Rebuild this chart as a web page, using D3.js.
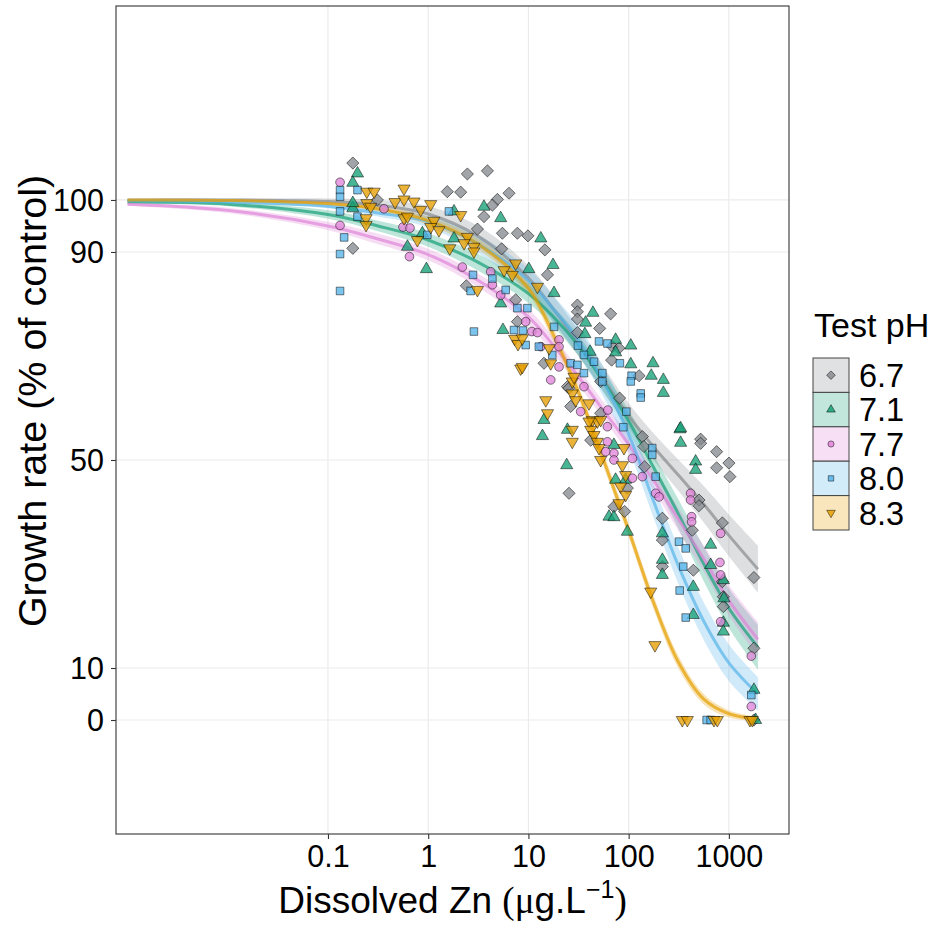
<!DOCTYPE html>
<html>
<head>
<meta charset="utf-8">
<script src="https://cdn.jsdelivr.net/npm/d3@7"></script>
<style>
  body { margin: 0; background: #fff; }
  text { font-family: "Liberation Sans", Arial, sans-serif; fill: #000; }
</style>
</head>
<body>
<svg id="chart" width="936" height="927"></svg>
<script>
// ---- data ----
const phLabels = ['6.7', '7.1', '7.7', '8.0', '8.3'];

const xTicks = [0.1, 1, 10, 100, 1000];
const xTickLabels = ['0.1', '1', '10', '100', '1000'];
const yTicks = [0, 10, 50, 90, 100];
const yTickLabels = ['0', '10', '50', '90', '100'];

// observations: [dissolved Zn (ug/L), growth rate (% of control)]
const pts67 = [[0.177,107.1],[0.311,100],[0.177,90.7],[1.55,101.6],[2.11,101.5],[2.46,105],[3.90,105.6],[6.40,101.3],
  [4.90,100.1],[4.37,99.0],[3.60,96.8],[5.50,93.6],[7.76,93.6],[9.89,93.1],[14.6,90.4],[5.4,90.6],[3.10,94.4],[15.5,85.6],
  [2.40,83.5],[7.76,76.6],[7.46,80.8],[14.3,68.6],[24.5,64.1],[26.4,60.3],[52.6,59],[30.8,79.8],[30.8,78.5],[30.8,77.1],
  [66.1,78.1],[51.4,75.3],[30.8,74.5],[68.8,71.8],[80.0,71.5],[67.6,69.2],[127,66.2],[52.6,65.1],[81.3,61.9],[25.4,63.8],
  [41.8,53.8],[25.4,43.6],[71.3,41.0],[91.2,40.1],[97.1,44.6],[137,54.5],[142,52.6],[144,48.7],[523,54.0],[523,53.2],
  [755,51.6],[1002,49.4],[755,48.5],[1025,46.8],[503,42.3],[503,41.2],[432,36.5],[861,37.9],[217,38.8],[217,34.6],
  [217,29.5],[442,28.8],[861,26.6],[881,23.7],[881,21.8],[1778,27.4],[1778,13.8],[1778,0]];

const pts71 = [[0.197,105.1],[0.177,103.3],[0.177,98.4],[0.177,99.4],[0.621,91.0],[0.960,86.7],[0.875,93.6],[3.60,98.7],
  [5.29,96.5],[13.3,92.6],[17.6,87.5],[18.0,82.1],[1.81,97.8],[1.81,92.6],[10.1,86.7],[5.57,75.0],[5.29,80.1],[44.0,78.3],
  [37.2,76.4],[36.6,74.2],[41.2,70.8],[74.1,73.1],[105,72.0],[74.1,70.7],[105,68.4],[175,68.6],[168,66.2],[222,65.4],
  [222,62.9],[325,55.9],[14.3,57.7],[24.5,55.8],[13.8,54.6],[24.1,49.0],[71.3,52.9],[74.1,46.2],[93.4,46.2],[63.7,39.1],
  [71.3,39.0],[97.1,36.2],[330,56.1],[330,53.3],[466,49.7],[466,48.1],[217,35.9],[217,30.8],[217,27.9],[658,33.7],
  [658,29.8],[442,25.6],[442,20.2],[881,26.9],[893,23.4],[881,18.7],[881,17.0],[1778,5.8],[1849,0]];

const pts77 = [[0.132,103.4],[0.132,95.1],[0.362,98.3],[0.56,94.8],[0.658,94.6],[0.65,89.1],[2.19,87.1],[4.37,83.7],
  [4.20,86.2],[5.29,81.7],[10.8,74.7],[12.3,74.5],[9.39,76.6],[13.3,71.8],[20.2,73.1],[20.2,71.8],[20.2,67.9],[16.7,65.4],
  [35.8,64.1],[33.2,59.3],[62,59.6],[61.4,56.4],[61.4,53.5],[71.3,51.3],[71.3,50],[109,50.3],[109,46.5],[137,46.8],
  [59.0,51.6],[186,43.6],[201,42.9],[415,43.6],[415,42.3],[425,39.1],[425,38.1],[828,35.9],[815,30.3],[828,27.9],
  [828,18.9],[1675,12.3],[1675,2.6]];

const pts80 = [[0.132,101.9],[0.132,100.6],[0.197,101.9],[0.132,97.8],[0.197,96.8],[0.145,92.8],[0.132,89.6],[0.132,82.5],
  [0.98,93.3],[1.61,97.8],[2.86,74.7],[2.80,85.6],[2.65,82.5],[4.37,84.9],[7.18,75.0],[8.83,74.9],[5.93,82.7],[7.76,79.2],
  [9.77,79.2],[9.39,72.1],[12.7,71.8],[17.3,70.2],[18.0,75.6],[50.6,72.8],[31.2,72.0],[61.4,72.4],[81.8,68.6],[107,66.2],
  [105,65.1],[132,62.8],[132,62.0],[94.9,59.3],[88.5,56.3],[26.4,68.6],[30.8,68.3],[35.8,66.7],[35.8,70.2],[45.1,68.9],
  [54.7,66.7],[54.7,65.1],[172,52.3],[172,51.0],[186,46.8],[318,34.3],[371,33.0],[351,29.5],[323,24.9],[371,19.7],
  [1675,4.8],[600,0],[658,0]];

const pts83 = [[0.244,101.6],[0.289,101.6],[0.244,99.4],[0.267,98.7],[0.24,96.5],[0.24,95.2],[0.574,102.2],[0.467,99.6],
  [0.574,100.1],[0.721,99.7],[1.06,99.2],[0.842,98.1],[0.574,96.5],[0.621,96.8],[1.14,96.0],[1.06,94.8],[1.28,94.2],
  [0.78,92.3],[2.11,97.1],[1.64,90.7],[2.46,92.9],[2.86,91.0],[2.28,91.7],[2.86,90.1],[3.10,82.7],[5.72,86.5],[6.9,85.6],
  [7.46,87.8],[12.3,83.3],[7.29,73.3],[7.87,72.3],[8.7,73.4],[8.37,67.6],[8.7,67.9],[16.1,71.5],[16.7,68.6],[14.9,61.5],
  [15.5,59.0],[27.4,65.1],[28.5,66.0],[27.4,62.8],[29.6,61.5],[40.2,60.9],[43.5,57.7],[48.7,57.4],[52.6,57.7],[27.4,55.8],
  [27.4,53.5],[40.2,57.4],[41.8,55.8],[45.1,54.8],[48.7,53.5],[50.6,52.3],[52.6,50],[89.8,52.3],[86.5,49.0],[93.4,47.1],
  [83.2,44.9],[93.4,43.3],[80,41.7],[166,24.7],[183,14.4],[343,0],[385,0],[710,0],[767,0],[1622,0],[1714,0]];

const fitConc = [0.001, 0.01, 0.1, 0.316, 1, 3.16, 10, 17.8, 31.6, 56.2, 100, 178, 316, 562, 1000, 1950];
const fit67 = [100, 100, 99.7, 99, 97.3, 93, 85, 79, 72.5, 65.5, 58.5, 52.5, 47, 41.5, 35.5, 29];
const fit71 = [99.6, 99.2, 97.2, 95, 92.3, 88, 82, 77.5, 72, 65, 57.5, 48.5, 39.5, 30, 21.5, 14];
const fit77 = [99.2, 98, 95, 92.5, 89.5, 84.5, 77.5, 72, 66, 59.5, 53, 46, 38.5, 31, 23, 15.5];
const fit80 = [99.9, 99.6, 98.8, 97.5, 95.8, 91.5, 84.5, 79, 73, 65, 55, 42, 29.5, 19, 11, 5];
const fit83 = [100, 99.9, 99.3, 98.3, 96, 91.5, 83, 74, 63, 50, 36.5, 22.5, 11, 4, 1.2, 0.2];
// half width of the confidence band at the same concentrations
const band67 = [0.2, 0.3, 0.6, 1, 1.5, 2, 2.4, 2.5, 2.5, 2.4, 2.4, 2.6, 3, 3.5, 4, 4.5];
const band71 = [0.3, 0.4, 0.8, 1, 1.3, 1.6, 1.8, 1.9, 2, 2, 2.1, 2.4, 2.8, 3.3, 3.8, 4.3];
const band77 = [0.3, 0.5, 0.8, 1, 1.1, 1.3, 1.5, 1.6, 1.6, 1.6, 1.7, 1.9, 2.2, 2.5, 2.9, 3.3];
const band80 = [0.1, 0.2, 0.4, 0.7, 1.1, 1.7, 2.3, 2.6, 2.8, 2.9, 3, 3.2, 3.5, 3.6, 3.5, 3.2];
const band83 = [0, 0.1, 0.3, 0.5, 0.8, 1, 1.2, 1.3, 1.3, 1.3, 1.3, 1.3, 1.2, 1, 0.7, 0.4];

// ---- styling ----
const colors = ['#878b90', '#14a077', '#e085d9', '#56b4e9', '#e69f00'];
const shapeNames = ['diamond', 'triangle', 'circle', 'square', 'triangleDown'];

const series = phLabels.map((ph, i) => ({
  ph,
  color: colors[i],
  shape: shapeNames[i],
  points: [pts67, pts71, pts77, pts80, pts83][i],
  fit: fitConc.map((c, j) => [c, [fit67, fit71, fit77, fit80, fit83][i][j], [band67, band71, band77, band80, band83][i][j]]),
}));

const svg = d3.select('#chart');
const panel = { left: 116, right: 789, top: 6, bottom: 834 };

const x = d3.scaleLog()
  .domain([Math.pow(10, -3.115), Math.pow(10, 3.6)])
  .range([panel.left, panel.right]);

const y = d3.scaleLinear()
  .domain([-21.92, 137.3])
  .range([panel.bottom, panel.top]);

function symbolPath(shape, size) {
  if (shape === 'circle') return d3.symbol(d3.symbolCircle, size)();
  if (shape === 'square' || shape === 'diamond') return d3.symbol(d3.symbolSquare, size)();
  return d3.symbol(d3.symbolTriangle, size)();
}
function symbolRotate(shape) {
  if (shape === 'diamond') return 45;
  if (shape === 'triangleDown') return 180;
  return 0;
}
const symbolSize = { diamond: 74, triangle: 64, circle: 60, square: 58, triangleDown: 64 };

// grid
const grid = svg.append('g');
grid.selectAll('.gx').data(xTicks).join('line')
  .attr('x1', d => x(d)).attr('x2', d => x(d))
  .attr('y1', panel.top).attr('y2', panel.bottom)
  .attr('stroke', '#ebebeb').attr('stroke-width', 1.2);
grid.selectAll('.gy').data(yTicks).join('line')
  .attr('x1', panel.left).attr('x2', panel.right)
  .attr('y1', d => y(d)).attr('y2', d => y(d))
  .attr('stroke', '#ebebeb').attr('stroke-width', 1.2);

// ribbons and fitted lines
const area = d3.area()
  .x(d => x(d[0]))
  .y0(d => y(d[1] - d[2]))
  .y1(d => y(d[1] + d[2]))
  .curve(d3.curveCatmullRom.alpha(0.5));

const line = d3.line()
  .x(d => x(d[0]))
  .y(d => y(d[1]))
  .curve(d3.curveCatmullRom.alpha(0.5));

series.forEach(s => {
  svg.append('path').datum(s.fit)
    .attr('d', area)
    .attr('fill', s.color)
    .attr('fill-opacity', 0.28);
});
series.forEach(s => {
  svg.append('path').datum(s.fit)
    .attr('d', line)
    .attr('fill', 'none')
    .attr('stroke', s.color)
    .attr('stroke-opacity', 0.7)
    .attr('stroke-width', 3);
});

// points
series.forEach(s => {
  svg.append('g').selectAll('path').data(s.points).join('path')
    .attr('d', symbolPath(s.shape, symbolSize[s.shape]))
    .attr('transform', d => `translate(${x(d[0])},${y(d[1])}) rotate(${symbolRotate(s.shape)})`)
    .attr('fill', s.color)
    .attr('fill-opacity', 0.78)
    .attr('stroke', '#000')
    .attr('stroke-opacity', 0.55)
    .attr('stroke-width', 0.9);
});

// panel border
svg.append('rect')
  .attr('x', panel.left).attr('y', panel.top)
  .attr('width', panel.right - panel.left)
  .attr('height', panel.bottom - panel.top)
  .attr('fill', 'none').attr('stroke', '#333').attr('stroke-width', 1.1);

// axes
const xAxis = svg.append('g')
  .attr('transform', `translate(0,${panel.bottom})`)
  .call(d3.axisBottom(x).tickValues(xTicks).tickFormat((d, i) => xTickLabels[i]).tickSize(5).tickPadding(6));
const yAxis = svg.append('g')
  .attr('transform', `translate(${panel.left},0)`)
  .call(d3.axisLeft(y).tickValues(yTicks).tickFormat((d, i) => yTickLabels[i]).tickSize(5).tickPadding(7));

[xAxis, yAxis].forEach(a => {
  a.select('.domain').remove();
  a.selectAll('.tick line').attr('stroke', '#333').attr('stroke-width', 1.1);
  a.selectAll('.tick text')
    .attr('font-family', '"Liberation Sans", Arial, sans-serif')
    .attr('font-size', 30.5).attr('fill', '#000');
});
yAxis.selectAll('.tick text').attr('dy', '0.36em');

// axis titles
const xTitle = svg.append('text')
  .attr('x', (panel.left + panel.right) / 2)
  .attr('y', 913)
  .attr('text-anchor', 'middle')
  .attr('font-size', 37);
xTitle.append('tspan').text('Dissolved Zn ');
xTitle.append('tspan').attr('font-family', '"Liberation Serif", serif').text('(\u03bc');
xTitle.append('tspan').text('g.L');
xTitle.append('tspan').attr('font-size', 25).attr('dy', -15).text('\u22121');
xTitle.append('tspan').attr('dy', 15).attr('font-family', '"Liberation Serif", serif').text(')');

svg.append('text')
  .attr('transform', `translate(46,${(panel.top + panel.bottom) / 2 - 19}) rotate(-90)`)
  .attr('text-anchor', 'middle')
  .attr('font-size', 39.5)
  .text('Growth rate (% of control)');

// legend
const legend = svg.append('g').attr('transform', 'translate(813,358)');
const keyH = 34.4, keyW = 36;
svg.append('text')
  .attr('x', 814).attr('y', 337)
  .attr('font-size', 34)
  .text('Test pH');

series.forEach((s, i) => {
  const g = legend.append('g').attr('transform', `translate(0,${i * keyH})`);
  g.append('rect').attr('width', keyW).attr('height', keyH).attr('fill', '#fff');
  g.append('rect').attr('width', keyW).attr('height', keyH)
    .attr('fill', s.color).attr('fill-opacity', 0.26)
    .attr('stroke', '#444').attr('stroke-width', 1);
  g.append('path')
    .attr('d', symbolPath(s.shape, symbolSize[s.shape] * 0.5))
    .attr('transform', `translate(${keyW / 2},${keyH / 2}) rotate(${symbolRotate(s.shape)})`)
    .attr('fill', s.color).attr('fill-opacity', 0.85)
    .attr('stroke', '#000').attr('stroke-opacity', 0.6).attr('stroke-width', 0.8);
  g.append('text')
    .attr('x', 46).attr('y', keyH / 2)
    .attr('dy', '0.36em')
    .attr('font-size', 32.5)
    .text(s.ph);
});
</script>
</body>
</html>
